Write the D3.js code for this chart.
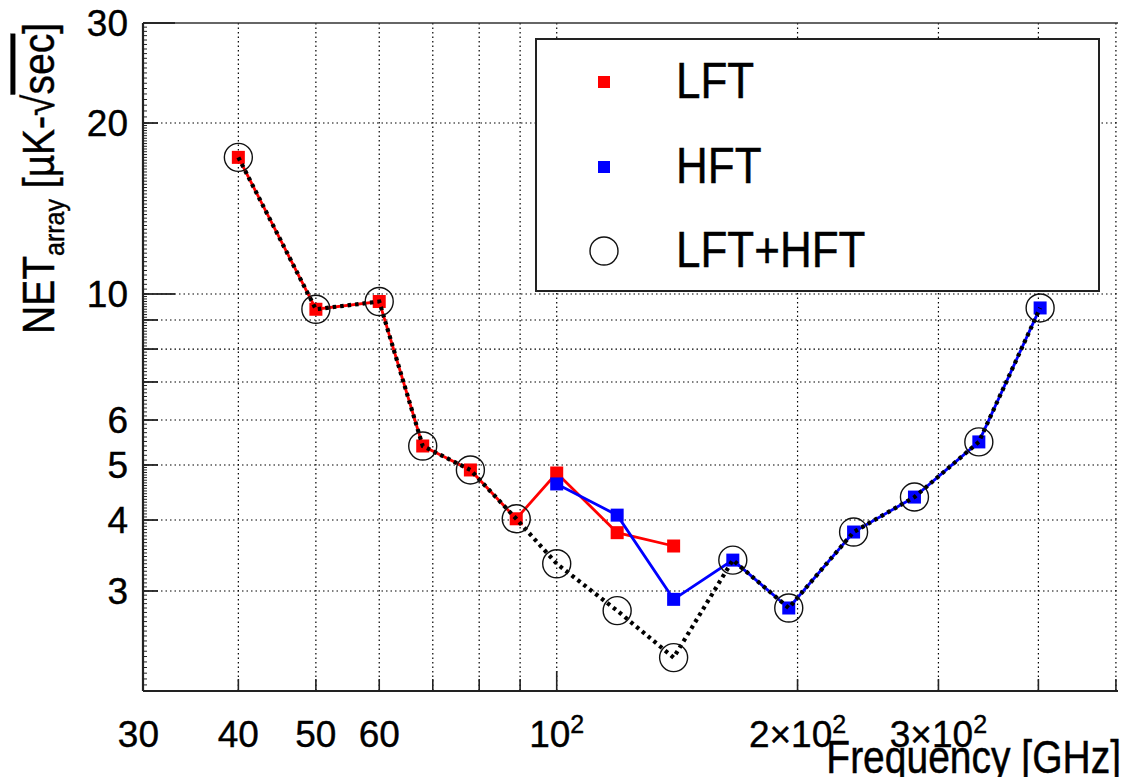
<!DOCTYPE html>
<html>
<head>
<meta charset="utf-8">
<script src="https://cdn.jsdelivr.net/npm/d3@7"></script>
<style>
  body { margin: 0; background: #fff; }
  svg { display: block; font-family: "Liberation Sans", Arial, sans-serif; }
  svg text { stroke: #000; stroke-width: 0.4; }
</style>
</head>
<body>
<svg id="chart" width="1123" height="777"></svg>
<script>
// Frequencies [GHz] and array NET values
let lftFreq = [40, 50, 60, 68, 78, 89, 100, 119, 140];
let lftNet = [17.4, 9.4, 9.7, 5.4, 4.9, 4.02, 4.84, 3.80, 3.60];

let hftFreq = [100, 119, 140, 166, 195, 235, 280, 337, 402];
let hftNet = [4.63, 4.08, 2.90, 3.40, 2.80, 3.81, 4.39, 5.49, 9.45];

let combFreq = [40, 50, 60, 68, 78, 89, 100, 119, 140, 166, 195, 235, 280, 337, 402];
let combNet = [17.4, 9.4, 9.7, 5.4, 4.9, 4.02, 3.35, 2.77, 2.29, 3.40, 2.80, 3.81, 4.39, 5.49, 9.45];

// axis ticks / labels
let xGrid = [40, 50, 60, 70, 80, 90, 100, 200, 300, 400, 500];
let xLabelValues = [30, 40, 50, 60, 100, 200, 300];
let xLabelTexts = ["30", "40", "50", "60", "10^2", "2\u00d710^2", "3\u00d710^2"];
let yGrid = [3, 4, 5, 6, 7, 8, 9, 10, 20];
let yLabelValues = [3, 4, 5, 6, 10, 20, 30];

let legendNames = ["LFT", "HFT", "LFT+HFT"];

let margin = { top: 23, right: 5, bottom: 86, left: 143 };
let width = 1123 - margin.left - margin.right;
let height = 777 - margin.top - margin.bottom;

let svg = d3.select("#chart");
let g = svg.append("g").attr("transform", `translate(${margin.left},${margin.top})`);

let x = d3.scaleLog().domain([30.4, 503]).range([0, width]);
let y = d3.scaleLog().domain([2, 30]).range([height, 0]);

// dotted grid
g.append("g").selectAll("line").data(xGrid).enter().append("line")
  .attr("x1", d => x(d)).attr("x2", d => x(d))
  .attr("y1", 0).attr("y2", height)
  .attr("stroke", "#000").attr("stroke-width", 1.2).attr("stroke-dasharray", "1.5,3");
g.append("g").selectAll("line").data(yGrid).enter().append("line")
  .attr("x1", 0).attr("x2", width)
  .attr("y1", d => y(d)).attr("y2", d => y(d))
  .attr("stroke", "#000").attr("stroke-width", 1.2).attr("stroke-dasharray", "1.5,3");

// frame: left, bottom, top solid
g.append("line").attr("x1", 0).attr("x2", width).attr("y1", 0).attr("y2", 0)
  .attr("stroke", "#333").attr("stroke-width", 1.5);
g.append("line").attr("x1", 0).attr("x2", width).attr("y1", height).attr("y2", height)
  .attr("stroke", "#222").attr("stroke-width", 2.2);
g.append("line").attr("x1", 0).attr("x2", 0).attr("y1", 0).attr("y2", height)
  .attr("stroke", "#222").attr("stroke-width", 2.2);

// x ticks (10^2 a bit longer)
g.append("g").selectAll("line").data(xGrid).enter().append("line")
  .attr("x1", d => x(d)).attr("x2", d => x(d))
  .attr("y1", height).attr("y2", d => height - (d === 100 ? 20 : 12))
  .attr("stroke", "#222").attr("stroke-width", 1.6);

// y ticks: dense minor ones and longer ones on the grid values
let yMinor = [];
for (let v = 2; v < 5; v += 0.05) yMinor.push(v);
for (let v = 5; v < 10; v += 0.1) yMinor.push(v);
for (let v = 10; v < 20; v += 0.2) yMinor.push(v);
for (let v = 20; v <= 30; v += 0.5) yMinor.push(v);
g.append("g").selectAll("line").data(yMinor).enter().append("line")
  .attr("x1", 0).attr("x2", 4)
  .attr("y1", d => y(d)).attr("y2", d => y(d))
  .attr("stroke", "#222").attr("stroke-width", 1);
g.append("g").selectAll("line").data(yGrid.concat([30])).enter().append("line")
  .attr("x1", 0).attr("x2", d => (d === 10 || d === 30) ? 32 : 15)
  .attr("y1", d => y(d)).attr("y2", d => y(d))
  .attr("stroke", "#222").attr("stroke-width", 1.8);

// y tick labels
g.append("g").selectAll("text").data(yLabelValues).enter().append("text")
  .attr("x", -15).attr("y", d => y(d)).attr("dy", "0.36em")
  .attr("text-anchor", "end").attr("font-size", 37)
  .text(d => d);

// x tick labels, "^" marks the superscript
let xl = g.append("g").selectAll("text").data(xLabelValues).enter().append("text")
  .attr("x", d => x(d)).attr("y", height + 56)
  .attr("text-anchor", "middle").attr("font-size", 37);
xl.each(function(d, i) {
  let parts = xLabelTexts[i].split("^");
  let t = d3.select(this);
  t.append("tspan").text(parts[0]);
  if (parts.length > 1) {
    t.append("tspan").attr("dy", "-0.55em").attr("font-size", 25).text(parts[1]);
  }
});

// axis titles (the original font is a bit condensed, hence the scale)
let xt = svg.append("g").attr("transform", "translate(1121,773) scale(1,1.18)");
xt.append("text").attr("text-anchor", "end").attr("font-size", 39).text("Frequency [GHz]");

let yt = svg.append("g").attr("transform", "translate(54,23) rotate(-90) scale(1,1.12)");
let ytxt = yt.append("text").attr("text-anchor", "end").attr("font-size", 39);
ytxt.append("tspan").text("NET");
ytxt.append("tspan").attr("font-size", 25).attr("dy", 9).text("array");
ytxt.append("tspan").attr("dy", -9).text(" [\u00b5K-\u221a");
ytxt.append("tspan").style("text-decoration", "overline").text("sec");
ytxt.append("tspan").text("]");

let line = d3.line().x(d => x(d[0])).y(d => y(d[1]));

// LFT
let lft = d3.zip(lftFreq, lftNet);
g.append("path").datum(lft).attr("d", line)
  .attr("fill", "none").attr("stroke", "#ff0000").attr("stroke-width", 2.8);
g.append("g").selectAll("rect").data(lft).enter().append("rect")
  .attr("x", d => x(d[0]) - 6.5).attr("y", d => y(d[1]) - 6.5)
  .attr("width", 13).attr("height", 13).attr("fill", "#ff0000");

// HFT
let hft = d3.zip(hftFreq, hftNet);
g.append("path").datum(hft).attr("d", line)
  .attr("fill", "none").attr("stroke", "#0000ff").attr("stroke-width", 2.8);
g.append("g").selectAll("rect").data(hft).enter().append("rect")
  .attr("x", d => x(d[0]) - 6.5).attr("y", d => y(d[1]) - 6.5)
  .attr("width", 13).attr("height", 13).attr("fill", "#0000ff");

// LFT+HFT combined, dotted on top
let comb = d3.zip(combFreq, combNet);
g.append("path").datum(comb).attr("d", line)
  .attr("fill", "none").attr("stroke", "#000").attr("stroke-width", 4.2)
  .attr("stroke-dasharray", "3.5,4");
g.append("g").selectAll("circle").data(comb).enter().append("circle")
  .attr("cx", d => x(d[0])).attr("cy", d => y(d[1])).attr("r", 14)
  .attr("fill", "none").attr("stroke", "#111").attr("stroke-width", 1.4);

// legend
let legend = svg.append("g");
legend.append("rect").attr("x", 536).attr("y", 39).attr("width", 563).attr("height", 252)
  .attr("fill", "#fff").attr("stroke", "#222").attr("stroke-width", 2);
let rowY = [82, 167, 251];
let legendColors = ["#ff0000", "#0000ff", null];
let item = legend.selectAll(".item").data(legendNames).enter().append("g")
  .attr("class", "item")
  .attr("transform", (d, i) => `translate(604,${rowY[i]})`);
item.each(function(d, i) {
  let it = d3.select(this);
  if (legendColors[i]) {
    it.append("rect").attr("x", -6).attr("y", -6).attr("width", 12).attr("height", 12)
      .attr("fill", legendColors[i]);
  } else {
    it.append("circle").attr("r", 14).attr("fill", "none")
      .attr("stroke", "#111").attr("stroke-width", 1.4);
  }
});
item.append("g").attr("transform", "translate(72,16) scale(1,1.12)")
  .append("text").attr("font-size", 44).text(d => d);
</script>
</body>
</html>
